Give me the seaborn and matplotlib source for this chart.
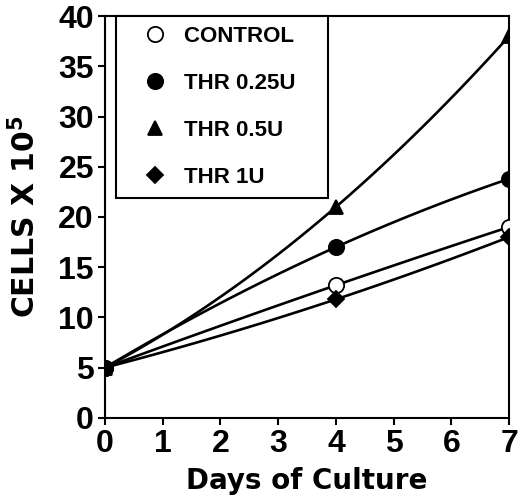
import matplotlib.pyplot as plt
import numpy as np
import seaborn as sns
from matplotlib.lines import Line2D

# data
days = [0, 4, 7]
control = [5, 13.2, 19]
thr_025 = [5, 17, 23.8]
thr_05 = [5, 21, 38]
thr_1 = [5, 11.8, 18]

labels = ["CONTROL", "THR 0.25U", "THR 0.5U", "THR 1U"]
series = [control, thr_025, thr_05, thr_1]
markers = ["o", "o", "^", "D"]
faces = ["white", "black", "black", "black"]
msizes = [11, 11, 10, 8]

sns.set_style("ticks")
plt.rcParams["font.family"] = ["Liberation Sans", "DejaVu Sans"]
plt.rcParams["font.weight"] = "bold"
plt.rcParams["text.color"] = "black"
plt.rcParams["axes.labelcolor"] = "black"
plt.rcParams["mathtext.fontset"] = "dejavusans"

fig = plt.figure(figsize=(5.2, 5.04), dpi=100)
ax = fig.add_axes([0.202, 0.171, 0.777, 0.797])

for vals in series:
    # smooth curve through the three time points (quadratic fit)
    sns.regplot(ax=ax, x=np.array(days), y=np.array(vals), order=2, ci=None,
                scatter=False, truncate=True,
                line_kws={"color": "black", "linewidth": 1.9})
for vals, m, fc, ms in zip(series, markers, faces, msizes):
    ax.plot(days, vals, linestyle="none", marker=m, markersize=ms,
            markerfacecolor=fc, markeredgecolor="black", markeredgewidth=1.3,
            zorder=5)

ax.set_xlim(0, 7)
ax.set_ylim(0, 40)
ax.set_xticks(range(0, 8))
ax.set_yticks(range(0, 41, 5))
ax.tick_params(axis="both", direction="out", length=5, width=1.5,
               labelsize=23, pad=3, colors="black")
for lab in ax.get_xticklabels() + ax.get_yticklabels():
    lab.set_fontweight("bold")
for sp in ax.spines.values():
    sp.set_visible(True)
    sp.set_linewidth(1.5)
    sp.set_color("black")

ax.set_xlabel("Days of Culture", fontsize=20, fontweight="bold",
              family="DejaVu Sans", labelpad=6)
ax.set_ylabel("CELLS X 10$^\\mathbf{5}$", fontsize=21.5, fontweight="bold",
              family="DejaVu Sans", labelpad=12)

handles = [Line2D([], [], linestyle="none", marker=m, markersize=ms,
                  markerfacecolor=fc, markeredgecolor="black", markeredgewidth=1.3)
           for m, fc, ms in zip(markers, faces, msizes)]
leg_labels = [labels[0] + "    "] + labels[1:]
leg = ax.legend(handles, leg_labels, loc="upper left", bbox_to_anchor=(0.027, 1.0),
                frameon=True, fancybox=False, edgecolor="black", framealpha=1,
                prop={"size": 16, "weight": "bold", "family": "Liberation Sans"},
                labelspacing=1.17, handletextpad=0.0, borderpad=0.45,
                borderaxespad=0, handlelength=2.6)
leg.get_frame().set_linewidth(1.5)

fig.savefig("out.png", dpi=100)
